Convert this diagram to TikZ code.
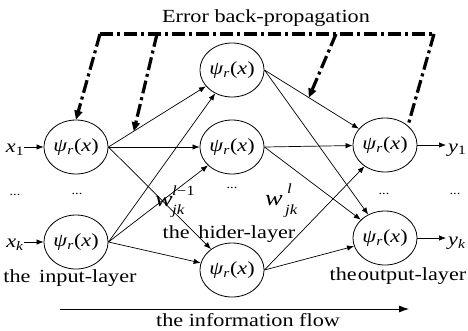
\documentclass[tikz,border=0pt]{standalone}
\usepackage{fontspec}
\setmainfont{Liberation Serif}[FakeStretch=1.2]
\usetikzlibrary{arrows.meta,shapes.geometric}

% activation function shown inside every neuron
\newcommand{\actfn}{\textit{ψ}\textsubscript{\textit{r}}(\textit{x})}

\begin{document}
\begin{tikzpicture}[x=1pt,y=-1pt,
  every node/.style={font=\fontsize{18.5}{21}\selectfont, inner sep=0pt},
  neuron/.style={draw, ellipse, line width=0.8pt, minimum width=58pt, minimum height=54pt},
  link/.style={-{Latex[length=7pt,width=5.5pt]}, line width=0.7pt},
  backprop/.style={line width=3.2pt, dash pattern=on 13pt off 4pt on 3pt off 4pt},
  backtip/.style={backprop, -{Triangle[length=9pt,width=8pt]}},
  flow/.style={-{Latex[length=10pt,width=7pt]}, line width=0.8pt},
  dots/.style={font=\fontsize{12}{14}\selectfont},
  weight/.style={font=\fontsize{22}{24}\selectfont\itshape},
  index/.style={font=\fontsize{14}{16}\selectfont\itshape}
]
\useasboundingbox (0,0) rectangle (468,330);

% neurons
\node[neuron] (i1) at (76,147) {\actfn};
\node[neuron] (i2) at (76,242) {\actfn};
\node[neuron] (h1) at (232,70)  {\actfn};
\node[neuron] (h2) at (232,147) {\actfn};
\node[neuron] (h3) at (232,270) {\actfn};
\node[neuron] (o1) at (385,145) {\actfn};
\node[neuron] (o2) at (385,238) {\actfn};

% inputs and outputs
\node (x1) at (15,150) {\textit{x}\textsubscript{1}};
\node (xk) at (15,245) {\textit{x}\textsubscript{\textit{k}}};
\node[anchor=west] (y1) at (448,150) {\textit{y}\textsubscript{1}};
\node[anchor=west] (yk) at (448,243) {\textit{y}\textsubscript{\textit{k}}};
\draw[link] (x1.east |- i1) -- (i1);
\draw[link] (xk.east |- i2) -- (i2);
\draw[link] (o1) -- ([xshift=-2pt]y1.west |- o1);
\draw[link] (o2) -- ([xshift=-2pt]yk.west |- o2);

% ellipsis dots
\node[dots] (d1) at (15,195) {...};
\node[dots] (d2) at (77,194) {...};
\node[dots] (d3) at (232,188) {...};
\node[dots] (d4) at (384,194) {...};
\node[dots] (d5) at (455,194) {...};

% weighted connections
\draw[link] (i1.east) -- coordinate[pos=0.26] (m1) (h1);
\draw[link] (i1.east) -- (h2);
\draw[link] (i1.east) -- (h3);
\foreach \s in {i2} \foreach \t in {h1,h2,h3} \draw[link] (\s.east) -- (\t);
\draw[link] (h1.east) -- coordinate[pos=0.47] (m2) (o1);
\draw[link] (h1.east) -- (o2);
\foreach \s in {h2,h3} \foreach \t in {o1,o2} \draw[link] (\s.east) -- (\t);

% weights
\node[weight] (w1) at (164,202) {w};
\node[index, anchor=west] (w1u) at (172,191) {l\upshape−1};
\node[index, anchor=west] (w1d) at (172,211) {jk};
\node[weight] (w2) at (274,201) {w};
\node[index, anchor=west] (w2u) at (287,189) {l};
\node[index, anchor=west] (w2d) at (285,211) {jk};

% layer captions
\node (li) at (70,278) {the\, input-layer};
\node (lh) at (229,234) {the\, hider-layer};
\node (lo) at (398,276) {the\hspace{1pt}output-layer};

% error back-propagation
\node (err) at (266,18) {Error back-propagation};
\coordinate (c1) at (100,34);
\coordinate (c2) at (157,34);
\coordinate (c3) at (336,34);
\coordinate (c4) at (434,34);
\draw[backprop] (c1) -- (c4);
\draw[backtip] (c1) -- (i1.north);
\draw[backtip] (c2) -- (m1);
\draw[backtip] (c3) -- (m2);
\draw[backprop] (c4) -- (o1.north east);

% information flow
\coordinate (f0) at (60,309);
\coordinate (f1) at (409,309);
\draw[flow] (f0) -- (f1);
\node (lf) at (248,320) {the information flow};
\end{tikzpicture}
\end{document}
